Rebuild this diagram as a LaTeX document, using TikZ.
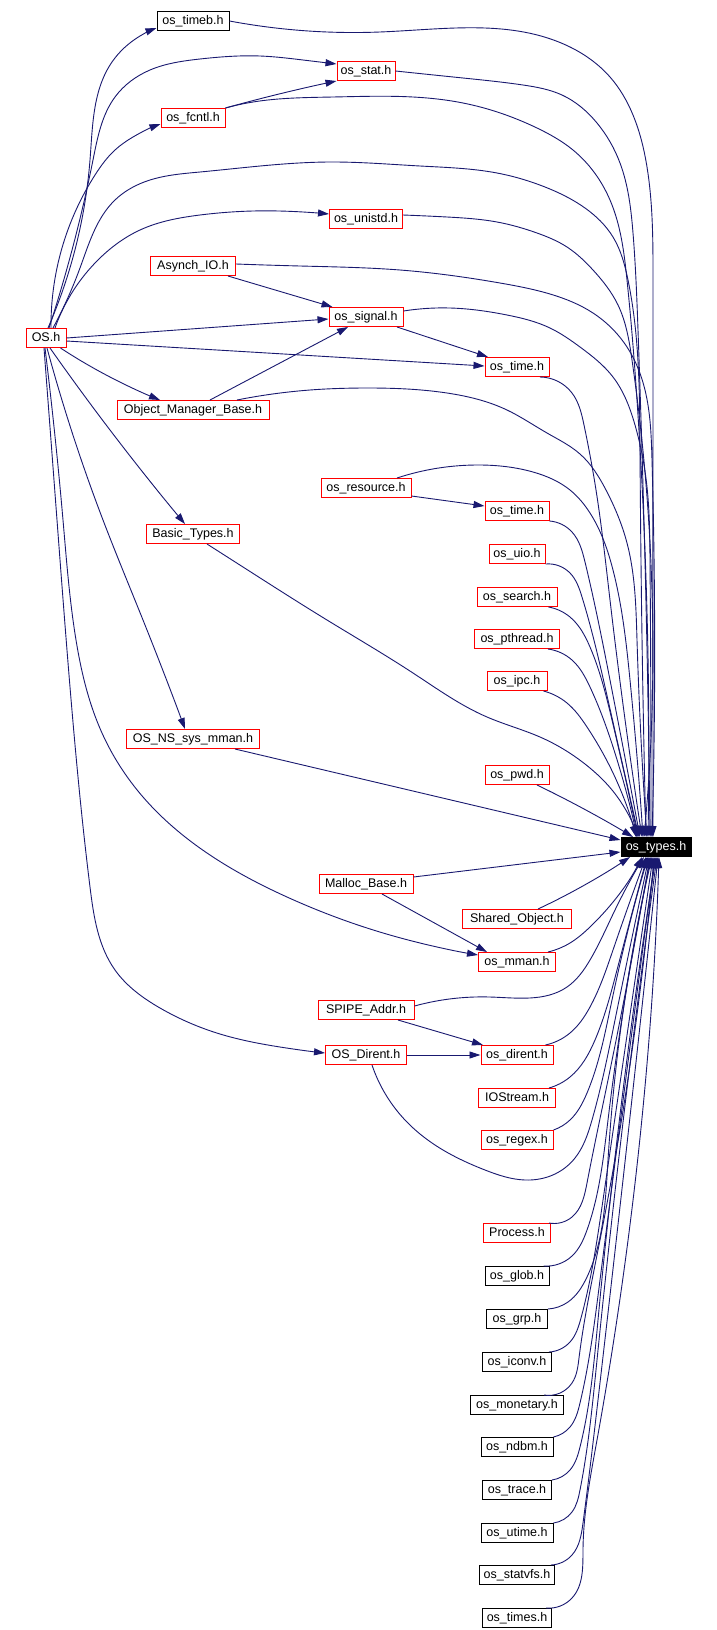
\documentclass[tikz,border=0pt]{standalone}
\usepackage{fontspec}
\usepackage{xcolor}
\usepackage{tikz}
\usetikzlibrary{arrows.meta,hobby}
\newfontfamily\graphfont{Liberation Sans}
\definecolor{EdgeBlue}{HTML}{191970}

\begin{document}
\begin{tikzpicture}[
  x=1pt, y=-1pt,
  hdr/.style={draw=red, line width=1pt, inner xsep=3pt, inner ysep=2pt, minimum height=19pt,
    text height=9pt, text depth=3pt, font=\graphfont\fontsize{12.5}{14}\selectfont},
  sys/.style={hdr, draw=black},
  root/.style={hdr, draw=black, fill=black, text=white},
  dep/.style={-{Triangle[length=11pt,width=7pt]}, draw=EdgeBlue, line width=0.9pt},
  depcurve/.style={dep, use Hobby shortcut}
]
\path[use as bounding box, fill=white] (0,0) rectangle (716,1630);

\node[sys, minimum width=72pt] (timeb) at (193,21) {os\_timeb.h};
\node[hdr, minimum width=58pt] (stat) at (366,71) {os\_stat.h};
\node[hdr, minimum width=64pt] (fcntl) at (193,118) {os\_fcntl.h};
\node[hdr, minimum width=73pt] (unistd) at (366,219) {os\_unistd.h};
\node[hdr, minimum width=85pt] (asynch) at (193,266) {Asynch\_IO.h};
\node[hdr, minimum width=74pt] (signal) at (366,317) {os\_signal.h};
\node[hdr, minimum width=40pt] (OS) at (46,338) {OS.h};
\node[hdr, minimum width=64pt] (timeA) at (517,367) {os\_time.h};
\node[hdr, minimum width=152pt] (objmgr) at (193,410) {Object\_Manager\_Base.h};
\node[hdr, minimum width=90pt] (resource) at (366,488) {os\_resource.h};
\node[hdr, minimum width=64pt] (timeB) at (517,511) {os\_time.h};
\node[hdr, minimum width=93pt] (basic) at (193,534) {Basic\_Types.h};
\node[hdr, minimum width=56pt] (uio) at (517,554) {os\_uio.h};
\node[hdr, minimum width=80pt] (search) at (517,597) {os\_search.h};
\node[hdr, minimum width=85pt] (pthread) at (517,639) {os\_pthread.h};
\node[hdr, minimum width=60pt] (ipc) at (517,681) {os\_ipc.h};
\node[hdr, minimum width=133pt] (nsmman) at (193,739) {OS\_NS\_sys\_mman.h};
\node[hdr, minimum width=64pt] (pwd) at (517,775) {os\_pwd.h};
\node[root, minimum width=70pt] (types) at (656,847) {os\_types.h};
\node[hdr, minimum width=94pt] (malloc) at (366,884) {Malloc\_Base.h};
\node[hdr, minimum width=109pt] (shared) at (517,919) {Shared\_Object.h};
\node[hdr, minimum width=77pt] (mman) at (517,962) {os\_mman.h};
\node[hdr, minimum width=96pt] (spipe) at (366,1010) {SPIPE\_Addr.h};
\node[hdr, minimum width=81pt] (OSDirent) at (366,1055) {OS\_Dirent.h};
\node[hdr, minimum width=72pt] (dirent) at (517,1055) {os\_dirent.h};
\node[hdr, minimum width=77pt] (iostream) at (517,1098) {IOStream.h};
\node[hdr, minimum width=72pt] (regex) at (517,1140) {os\_regex.h};
\node[hdr, minimum width=67pt] (process) at (517,1233) {Process.h};
\node[sys, minimum width=64pt] (glob) at (517,1276) {os\_glob.h};
\node[sys, minimum width=61pt] (grp) at (517,1319) {os\_grp.h};
\node[sys, minimum width=69pt] (iconv) at (517,1362) {os\_iconv.h};
\node[sys, minimum width=93pt] (monetary) at (517,1405) {os\_monetary.h};
\node[sys, minimum width=72pt] (ndbm) at (517,1447) {os\_ndbm.h};
\node[sys, minimum width=69pt] (trace) at (517,1490) {os\_trace.h};
\node[sys, minimum width=72pt] (utime) at (517,1533) {os\_utime.h};
\node[sys, minimum width=75pt] (statvfs) at (517,1575) {os\_statvfs.h};
\node[sys, minimum width=69pt] (times) at (517,1618) {os\_times.h};

\draw[depcurve] ([xshift=2pt]OS.north) .. (90,160) .. (112,62) .. (140,36) .. ([yshift=-7pt]timeb.west);
\draw[depcurve] ([xshift=3pt]OS.north) .. (93,160) .. (115,97) .. (150,70) .. (200,59) .. (260,56) .. (303,60) .. ([yshift=7pt]stat.west);
\draw[depcurve] ([xshift=5pt]OS.north) .. (95,175) .. (115,150) .. (133,137) .. ([yshift=-6pt]fcntl.west);
\draw[depcurve] ([xshift=7pt]OS.north) .. (80,268) .. (115,200) .. (150,180) .. (200,172) .. (330,162) .. (420,166) .. (497,173) .. (545,187) .. (585,208) .. (613,237) .. (628,280) .. (640,450) .. ([xshift=-10pt]types.north);
\draw[depcurve] ([xshift=9pt]OS.north) .. (100,258) .. (140,230) .. (200,215) .. (253,211) .. (303,212) .. ([yshift=5pt]unistd.west);
\draw[dep] (OS.east) -- ([yshift=-2pt]signal.west);
\draw[dep] ([yshift=-3pt]OS.east) -- ([yshift=1pt]timeA.west);
\draw[depcurve] ([xshift=-6pt]OS.south east) .. (110,377) .. ([xshift=-33pt]objmgr.north);
\draw[depcurve] ([xshift=4pt]OS.south) .. (110,430) .. ([xshift=-8pt]basic.north);
\draw[depcurve] ([xshift=1pt]OS.south) .. (103,520) .. (143,620) .. ([xshift=-8pt]nsmman.north);
\draw[depcurve] ([xshift=-1pt]OS.south) .. (63,520) .. (76,640) .. (102,733) .. (143,797) .. (207,853) .. (287,897) .. (367,928) .. (420,943) .. ([yshift=7pt]mman.west);
\draw[depcurve] ([xshift=-2pt]OS.south) .. (57,520) .. (70,687) .. (90,887) .. (115,970) .. (160,1008) .. (220,1034) .. (280,1047) .. ([yshift=2pt]OSDirent.west);

\draw[dep] ([xshift=-8pt]asynch.south east) -- ([xshift=4pt]signal.north west);
\draw[dep] ([xshift=17pt]objmgr.north) -- ([xshift=-18pt]signal.south);
\draw[dep] ([xshift=31pt]signal.south) -- ([xshift=-29pt]timeA.north);
\draw[depcurve] (fcntl.north east) .. (267,97) .. (stat.south west);
\draw[dep] ([yshift=2pt]resource.south east) -- ([yshift=5pt]timeB.west);
\draw[dep] ([xshift=16pt]malloc.south) -- ([xshift=-30pt]mman.north);
\draw[dep] ([xshift=32pt]spipe.south) -- ([xshift=-34pt]dirent.north);
\draw[dep] (OSDirent) -- (dirent);

\draw[depcurve] (timeb.east) .. (380,32) .. (570,47) .. (610,77) .. (633,115) .. (647,167) .. (653,280) .. ([xshift=-3pt]types.north);
\draw[depcurve] (stat.east) .. (463,78) .. (523,85) .. (562,95) .. (597,123) .. (620,163) .. (633,233) .. (638,330) .. ([xshift=-6pt]types.north);
\draw[depcurve] (fcntl.north east) .. (253,102) .. (333,97) .. (413,97) .. (463,103) .. (537,128) .. (573,150) .. (610,200) .. (627,280) .. (637,400) .. ([xshift=-8pt]types.north);
\draw[depcurve] ([yshift=4pt]unistd.east) .. (447,217) .. (497,222) .. (537,233) .. (567,247) .. (593,270) .. (618,305) .. (632,360) .. ([xshift=-12pt]types.north);
\draw[depcurve] ([yshift=2pt]asynch.east) .. (300,266) .. (400,270) .. (500,283) .. (550,294) .. (593,313) .. (627,347) .. (645,390) .. (652,460) .. ([xshift=-4pt]types.north);
\draw[depcurve] ([yshift=6pt]signal.east) .. (450,308) .. (507,315) .. (550,328) .. (580,347) .. (613,377) .. (635,425) .. (647,487) .. (650,560) .. ([xshift=-5pt]types.north);
\draw[depcurve] ([xshift=44pt]objmgr.north) .. (310,390) .. (367,388) .. (447,393) .. (507,410) .. (547,433) .. (580,454) .. (606,490) .. (627,543) .. (637,640) .. ([xshift=-9pt]types.north);
\draw[depcurve] ([xshift=23pt]timeA.south) .. (572,393) .. (584,425) .. (596,490) .. (610,600) .. ([xshift=-14pt]types.north);
\draw[depcurve] ([xshift=31pt]resource.north) .. (480,465) .. (533,472) .. (570,490) .. (590,513) .. (613,570) .. (630,680) .. ([xshift=-13pt]types.north);
\draw[depcurve] (timeB.south east) .. (572,532) .. (585,562) .. (610,680) .. ([xshift=-16pt]types.north);
\draw[depcurve] (uio.south east) .. (570,573) .. (582,597) .. (608,700) .. ([xshift=-17pt]types.north);
\draw[depcurve] ([xshift=-9pt]search.south east) .. (570,617) .. (590,647) .. (612,720) .. ([xshift=-18pt]types.north);
\draw[depcurve] ([xshift=-12pt]pthread.south east) .. (572,660) .. (590,687) .. (614,750) .. ([xshift=-19pt]types.north);
\draw[depcurve] ([xshift=-4pt]ipc.south east) .. (567,703) .. (587,727) .. (614,775) .. ([xshift=-20pt]types.north);
\draw[depcurve] ([xshift=14pt]basic.south) .. (243,567) .. (327,620) .. (413,673) .. (487,717) .. (540,737) .. (585,764) .. (616,795) .. ([xshift=-19pt]types.north);
\draw[depcurve] ([xshift=20pt]pwd.south) .. (567,800) .. ([xshift=-23pt]types.north);
\draw[dep] ([xshift=42pt]nsmman.south) -- ([yshift=7pt]types.west);
\draw[dep] ([yshift=7pt]malloc.east) -- ([yshift=-5pt]types.west);
\draw[depcurve] ([xshift=21pt]shared.north) .. (570,893) .. ([xshift=-26pt]types.south);

\draw[depcurve] ([xshift=-8pt]mman.north east) .. (570,943) .. (590,927) .. ([xshift=-14pt]types.south);
\draw[depcurve] ([yshift=4pt]spipe.east) .. (490,997) .. (567,987) .. (590,960) .. (615,910) .. ([xshift=-12pt]types.south);
\draw[depcurve] ([xshift=-8pt]dirent.north east) .. (570,1033) .. (590,1007) .. (613,950) .. ([xshift=-10pt]types.south);
\draw[depcurve] ([xshift=-7pt]iostream.north east) .. (570,1077) .. (595,1040) .. (617,970) .. ([xshift=-9pt]types.south);
\draw[depcurve] (regex.north east) .. (570,1120) .. (587,1093) .. (612,1000) .. ([xshift=-8pt]types.south);
\draw[depcurve] ([xshift=6pt]OSDirent.south) .. (405,1120) .. (443,1150) .. (485,1170) .. (525,1180) .. (555,1174) .. (575,1158) .. (592,1120) .. (615,1020) .. ([xshift=-7pt]types.south);
\draw[depcurve] ([xshift=-2pt]process.north east) .. (572,1217) .. (587,1183) .. (608,1080) .. ([xshift=-6pt]types.south);
\draw[depcurve] ([xshift=-6pt]glob.north east) .. (572,1256) .. (587,1230) .. (608,1120) .. ([xshift=-5pt]types.south);
\draw[depcurve] (grp.north east) .. (568,1302) .. (587,1277) .. (608,1160) .. ([xshift=-4pt]types.south);
\draw[depcurve] ([xshift=-3pt]iconv.north east) .. (570,1342) .. (581,1318) .. (603,1200) .. ([xshift=-3pt]types.south);
\draw[depcurve] ([xshift=-20pt]monetary.north east) .. (572,1383) .. (579,1358) .. (600,1240) .. ([xshift=-2pt]types.south);
\draw[depcurve] (ndbm.north east) .. (570,1427) .. (580,1403) .. (600,1280) .. ([xshift=-1pt]types.south);
\draw[depcurve] (trace.north east) .. (570,1470) .. (580,1447) .. (598,1320) .. (types.south);
\draw[depcurve] (utime.north east) .. (572,1512) .. (580,1490) .. (597,1360) .. ([xshift=1pt]types.south);
\draw[depcurve] ([xshift=-4pt]statvfs.north east) .. (572,1555) .. (583,1523) .. (598,1400) .. ([xshift=2pt]types.south);
\draw[depcurve] ([xshift=-6pt]times.north east) .. (572,1598) .. (583,1550) .. (597,1440) .. ([xshift=3pt]types.south);
\end{tikzpicture}
\end{document}
